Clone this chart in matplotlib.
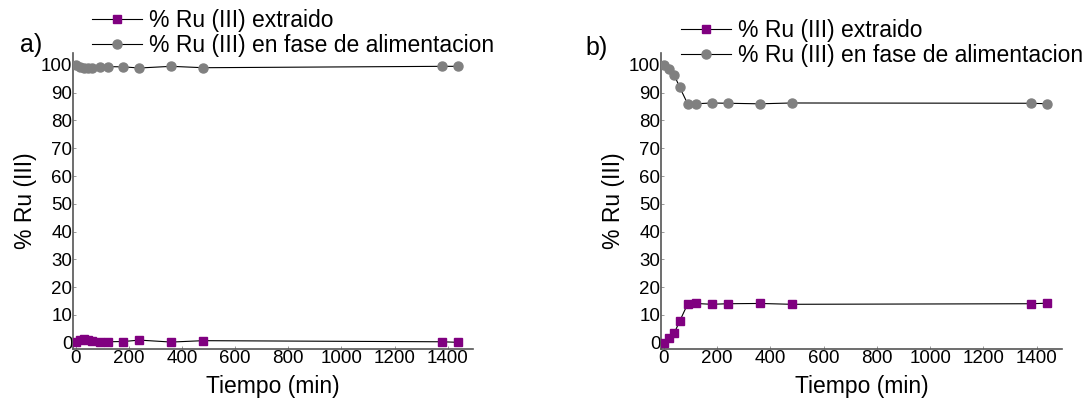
import matplotlib
matplotlib.use("Agg")
import matplotlib.pyplot as plt

plt.rcParams['font.family'] = ['Liberation Sans', 'DejaVu Sans']

# Panel a data
time_a = [0, 15, 30, 45, 60, 90, 120, 180, 240, 360, 480, 1380, 1440]
extr_a = [0.2, 1.0, 1.2, 1.1, 0.7, 0.3, 0.3, 0.4, 0.9, 0.2, 0.7, 0.3, 0.1]
feed_a = [100.0, 99.3, 98.9, 98.8, 99.0, 99.4, 99.4, 99.3, 98.9, 99.5, 99.0, 99.5, 99.5]

# Panel b data
time_b = [0, 20, 40, 60, 90, 120, 180, 240, 360, 480, 1380, 1440]
extr_b = [0.0, 1.5, 3.5, 7.7, 13.9, 14.1, 13.8, 14.0, 14.1, 13.8, 14.0, 14.2]
feed_b = [100.0, 98.5, 96.3, 92.0, 86.0, 86.0, 86.3, 86.2, 86.0, 86.3, 86.2, 86.0]

xticks = [0, 200, 400, 600, 800, 1000, 1200, 1400]
yticks = [0, 10, 20, 30, 40, 50, 60, 70, 80, 90, 100]

lbl_extr = "% Ru (III) extraido"
lbl_feed = "% Ru (III) en fase de alimentacion"

PURPLE = "#800080"
GRAY = "#808080"

fig = plt.figure(figsize=(10.89, 4.0), dpi=100)
ax_a = fig.add_axes([73/1089, 1-349/400, 400/1089, 296/400])
ax_b = fig.add_axes([661/1089, 1-349/400, 401/1089, 296/400])

def draw(ax, t, ex, fd, leg_anchor, letter, letter_pos):
    l1, = ax.plot(t, ex, color="black", lw=0.8, marker="s", ms=6,
                  mfc=PURPLE, mec=PURPLE, label=lbl_extr, zorder=3)
    l2, = ax.plot(t, fd, color="black", lw=0.8, marker="o", ms=6.5,
                  mfc=GRAY, mec=GRAY, label=lbl_feed, zorder=3)
    ax.set_xlim(-10, 1495)
    ax.set_ylim(-2.3, 104.3)
    ax.set_xticks(xticks)
    ax.set_yticks(yticks)
    for s in ["top", "right"]:
        ax.spines[s].set_visible(False)
    for s in ["left", "bottom"]:
        ax.spines[s].set_color("#555555")
        ax.spines[s].set_linewidth(1.2)
    ax.tick_params(axis="both", direction="in", length=2.5, width=0.6,
                   color="#888888", labelsize=13.5, pad=0.5)
    ax.set_xlabel("Tiempo (min)", fontsize=16.5, labelpad=6)
    ax.set_ylabel("% Ru (III)", fontsize=16.5, labelpad=3)
    fig.legend(handles=[l1, l2], loc="upper left",
               bbox_to_anchor=leg_anchor, frameon=False, fontsize=16.5,
               handlelength=2.2, handletextpad=0.3, labelspacing=0.08,
               borderaxespad=0, borderpad=0)
    fig.text(letter_pos[0], letter_pos[1], letter, fontsize=18,
             ha="left", va="center")

draw(ax_a, time_a, extr_a, feed_a, (92/1089, 1-9/400), "a)", (20/1089, 1-45/400))
draw(ax_b, time_b, extr_b, feed_b, (681/1089, 1-19/400), "b)", (585/1089, 1-48/400))

fig.savefig("out.png", dpi=100)
